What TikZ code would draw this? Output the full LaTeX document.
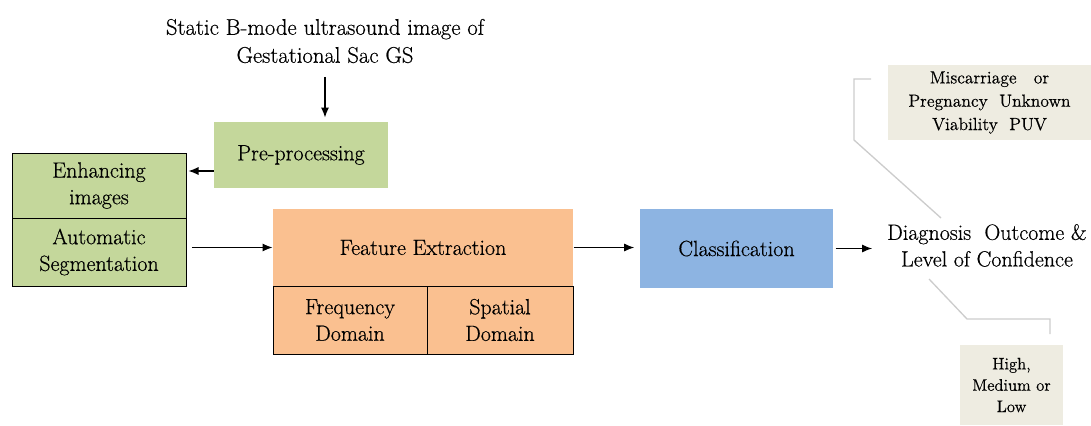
\documentclass[tikz,border=0pt]{standalone}
\usepackage{fontspec}
\setmainfont{Latin Modern Roman}[FakeBold=0.5]
\usetikzlibrary{arrows.meta}
\definecolor{boxgreen}{HTML}{C4D79B}
\definecolor{boxpeach}{HTML}{FAC090}
\definecolor{boxblue}{HTML}{8DB4E2}
\definecolor{boxgrey}{HTML}{EEECE1}
\definecolor{linegrey}{HTML}{CCCCCC}
\tikzset{
  blk/.style={rectangle, inner sep=0pt, align=center, line width=0.75pt, font=\fontsize{16.5}{20}\selectfont},
  note/.style={rectangle, inner sep=0pt, align=center, fill=boxgrey},
  bracket/.style={draw=linegrey, line width=1pt}
}
\begin{document}
\begin{tikzpicture}[x=0.75pt,y=-0.75pt,>={Latex[length=7.5pt,width=6pt]},line width=0.8pt]
\useasboundingbox (0,0) rectangle (1091,425);
\node[blk,font=\fontsize{17}{21}\selectfont] (src) at (325,41) {Static B-mode ultrasound image of\\Gestational Sac GS};
\node[blk,fill=boxgreen,minimum width=130.5pt,minimum height=49.5pt] (pre) at (301,155) {Pre-processing};
\node[blk,fill=boxgreen,draw,minimum width=130.5pt,minimum height=48.75pt] (enh) at (99,185.5) {Enhancing\\images};
\node[blk,fill=boxgreen,draw,minimum width=130.5pt,minimum height=51pt] (seg) at (99,252) {Automatic\\Segmentation};
\node[blk,fill=boxpeach,minimum width=225pt,minimum height=57.75pt] (feat) at (423,247.5) {Feature Extraction};
\node[blk,fill=boxpeach,draw,minimum width=115.5pt,minimum height=51pt] (freq) at (350,320) {Frequency\\Domain};
\node[blk,fill=boxpeach,draw,minimum width=109.5pt,minimum height=51pt] (spat) at (500,320) {Spatial\\Domain};
\node[blk,fill=boxblue,minimum width=144.75pt,minimum height=59.25pt] (cls) at (736.5,248.5) {Classification};
\node[blk] (diag) at (987,245.5) {Diagnosis~ Outcome \&\\Level of Confidence};
\node[note,font=\fontsize{13.2}{17.5}\selectfont,minimum width=152.25pt,minimum height=56.25pt] (misc) at (989.5,102.5) {Miscarriage~~ or\\Pregnancy~ Unknown\\Viability~ PUV};
\node[note,font=\fontsize{12.5}{16}\selectfont,minimum width=77.25pt,minimum height=60pt] (conf) at (1011.5,385) {High,\\Medium or\\Low};
% arrows
\draw[->,shorten <=10pt,shorten >=3pt] (src.south) -- (src.south |- pre.north);
\draw[->,shorten >=1.5pt] ([yshift=-12pt]pre.west) -- ([yshift=-12pt]pre.west -| enh.east);
\draw[->,shorten <=4pt] (seg.east |- feat.west) -- (feat.west);
\draw[->,shorten >=4pt] (feat.east) -- (cls.west |- feat.east);
\draw[->,shorten <=1.5pt,shorten >=11pt] (cls.east) -- (diag.west |- cls.east);
% grey brackets
\coordinate (b1) at (871,79);
\coordinate (b2) at (941,218);
\coordinate (c1) at (929,279);
\coordinate (c2) at (1050,334);
\draw[bracket] (b1) -- (854,79) -- (854,140) -- (b2);
\draw[bracket] (c1) -- (967,319) -- (1050,319) -- (c2);
\end{tikzpicture}
\end{document}
